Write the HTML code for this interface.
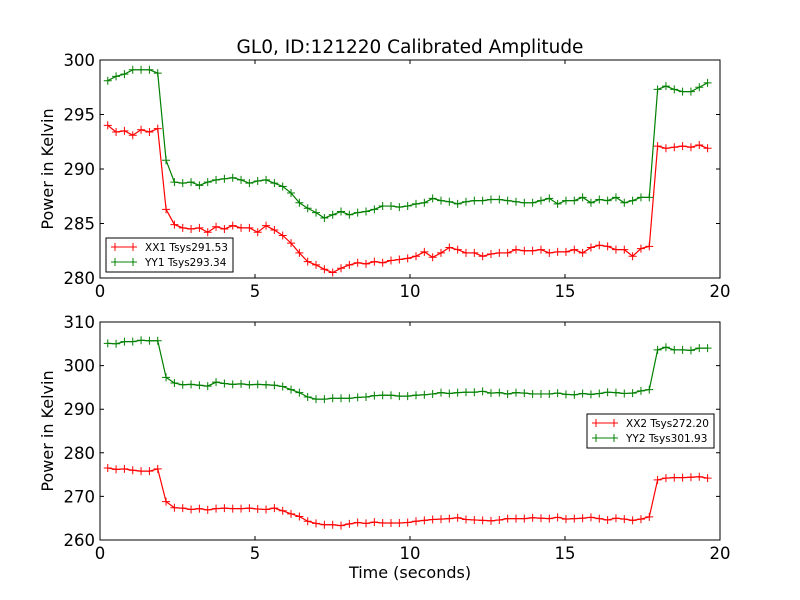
<!DOCTYPE html>
<html><head><meta charset="utf-8"><style>
body{margin:0;background:#fff}
svg{display:block;font-family:"DejaVu Sans","Liberation Sans",sans-serif}
</style></head><body>
<svg id="chart" width="800" height="600" viewBox="0 0 800 600">
<rect width="800" height="600" fill="#fff"/>
<text x="410" y="53" text-anchor="middle" font-size="18.5">GL0, ID:121220 Calibrated Amplitude</text>
<g id="top"></g><g id="bot"></g>
<text x="410" y="578" text-anchor="middle" font-size="16">Time (seconds)</text>
</svg>
<script>
const xTicks=[0,5,10,15,20];
const topYTicks=[280,285,290,295,300];
const botYTicks=[260,270,280,290,300,310];
const tStart=0.25, tEnd=19.6;
const xx1=[294.0,293.4,293.5,293.1,293.6,293.4,293.7,286.3,284.9,284.6,284.5,284.6,284.2,284.7,284.5,284.8,284.6,284.6,284.2,284.8,284.4,283.9,283.2,282.3,281.5,281.2,280.8,280.5,280.9,281.2,281.4,281.3,281.5,281.4,281.6,281.7,281.8,282.0,282.4,281.9,282.3,282.8,282.6,282.3,282.3,282.0,282.2,282.3,282.3,282.6,282.5,282.5,282.6,282.3,282.4,282.4,282.6,282.3,282.8,283.0,282.9,282.6,282.6,282.0,282.7,282.9,292.1,291.9,292.0,292.1,292.0,292.2,291.9];
const yy1=[298.1,298.5,298.7,299.1,299.1,299.1,298.8,290.8,288.8,288.7,288.8,288.5,288.8,289.0,289.1,289.2,289.0,288.7,288.9,289.0,288.7,288.4,287.8,286.9,286.4,286.0,285.5,285.8,286.1,285.8,286.0,286.1,286.3,286.6,286.6,286.5,286.6,286.8,286.9,287.3,287.1,287.0,286.8,287.0,287.1,287.1,287.2,287.2,287.1,287.0,286.9,286.9,287.1,287.3,286.8,287.1,287.1,287.4,286.9,287.2,287.1,287.4,286.9,287.1,287.4,287.4,297.3,297.6,297.3,297.1,297.1,297.5,297.9];
const xx2=[276.5,276.2,276.3,276.0,275.8,275.8,276.3,268.8,267.4,267.3,267.0,267.2,266.9,267.2,267.3,267.2,267.2,267.3,267.1,267.0,267.3,266.7,266.0,265.4,264.3,263.8,263.5,263.5,263.3,263.7,264.0,263.8,264.1,263.9,263.9,263.9,264.0,264.3,264.5,264.7,264.8,264.9,265.1,264.7,264.6,264.5,264.4,264.6,264.9,264.9,264.9,265.1,265.0,264.9,265.2,264.8,264.9,265.0,265.2,264.9,264.6,265.0,264.8,264.5,264.8,265.3,273.8,274.2,274.3,274.3,274.4,274.5,274.2];
const yy2=[305.1,305.0,305.5,305.5,305.8,305.7,305.7,297.3,296.0,295.6,295.7,295.5,295.3,296.2,295.9,295.7,295.8,295.6,295.7,295.6,295.5,295.2,294.5,293.8,292.8,292.3,292.3,292.5,292.5,292.5,292.7,292.8,293.1,293.2,293.2,293.0,293.0,293.2,293.3,293.5,293.8,293.6,293.8,293.9,293.9,294.1,293.7,293.8,293.5,293.8,293.7,293.5,293.5,293.5,293.7,293.4,293.3,293.6,293.4,293.6,293.9,293.8,293.6,293.7,294.2,294.5,303.6,304.2,303.6,303.6,303.5,304.0,304.0];
const NS='http://www.w3.org/2000/svg';
function mk(tag,attrs,parent){const e=document.createElementNS(NS,tag);for(const k in attrs)e.setAttribute(k,attrs[k]);parent.appendChild(e);return e;}
function panel(g,top,bottom,ymin,ymax,yTicks,series,legendBox,prefix){
  const L=100,R=720;
  const sx=v=>L+(v-0)/(20-0)*(R-L);
  const sy=v=>bottom-(v-ymin)/(ymax-ymin)*(bottom-top);
  series.forEach(s=>{
    const n=s.vals.length;
    const pts=s.vals.map((v,i)=>[sx(tStart+i*(tEnd-tStart)/(n-1)),sy(v)]);
    const pl=mk('polyline',{points:pts.map(p=>p.join(',')).join(' '),fill:'none',stroke:s.color,'stroke-width':1.2},g);
    
    
    let d='';pts.forEach(p=>{d+=`M${p[0]-4},${p[1]}h8M${p[0]},${p[1]-4}v8`;});
    const m=mk('path',{d:d,stroke:s.color,'stroke-width':1},g);
    
    
  });
  const fr=mk('rect',{x:L,y:top,width:R-L,height:bottom-top,fill:'none',stroke:'#000','stroke-width':1},g);
  
  
  xTicks.forEach(t=>{
    const x=sx(t);
    mk('path',{d:`M${x},${bottom}v-4M${x},${top}v4`,stroke:'#000'},g);
    const tx=mk('text',{x:x,y:bottom+19,'text-anchor':'middle','font-size':16.5},g);
    tx.textContent=t;
    
    
  });
  yTicks.forEach(t=>{
    const y=sy(t);
    mk('path',{d:`M${L},${y}h4M${R},${y}h-4`,stroke:'#000'},g);
    const tx=mk('text',{x:L-5,y:y+6,'text-anchor':'end','font-size':16.5},g);
    tx.textContent=t;
    
    
  });
  const yl=mk('text',{x:0,y:0,'text-anchor':'middle','font-size':16,transform:`translate(53,${(top+bottom)/2}) rotate(-90)`},g);
  yl.textContent='Power in Kelvin';
  
  
  const lg=mk('g',{},g);
  
  
  mk('rect',{x:legendBox[0],y:legendBox[1],width:127,height:34,fill:'#fff',stroke:'#000'},lg);
  series.forEach((s,i)=>{
    const y=legendBox[1]+9+i*15, x=legendBox[0]+5;
    mk('path',{d:`M${x},${y}h26M${x+4},${y}m-4,0h8M${x+4},${y-4}v8M${x+22},${y}m-4,0h8M${x+22},${y-4}v8`,stroke:s.color},lg);
    const t=mk('text',{x:x+34,y:y+4,'font-size':10.5},lg);
    t.textContent=s.label;
    
    
  });
}
panel(document.getElementById('top'),60,278,280,300,topYTicks,
 [{vals:xx1,color:'#ff0000',name:'xx1',label:'XX1 Tsys291.53'},{vals:yy1,color:'#008000',name:'yy1',label:'YY1 Tsys293.34'}],[106,238],'top');
panel(document.getElementById('bot'),322,540,260,310,botYTicks,
 [{vals:xx2,color:'#ff0000',name:'xx2',label:'XX2 Tsys272.20'},{vals:yy2,color:'#008000',name:'yy2',label:'YY2 Tsys301.93'}],[587,414],'bottom');
</script>
</body></html>
